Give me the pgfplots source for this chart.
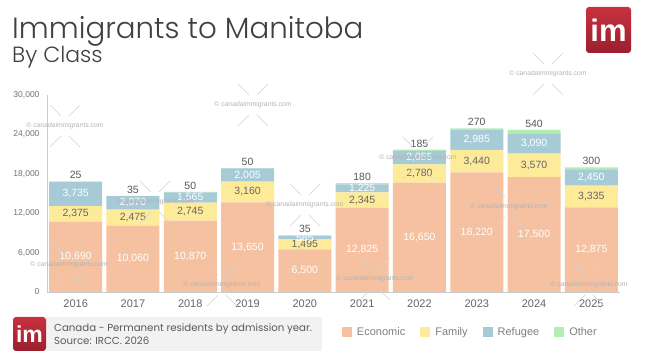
\documentclass[border=0pt]{standalone}
\usepackage{fontspec}
\setmainfont{Liberation Sans}
\newfontfamily\titlefont{Poppins Light}
\newfontfamily\gothfont{Poppins}
\usepackage{pgfplots}
\usepackage{pgfplotstable}
\pgfplotsset{compat=1.18}
\pgfplotsset{/pgf/number format/assume math mode=true}
\definecolor{econ}{HTML}{F5C1A0}
\definecolor{fam}{HTML}{FDEB99}
\definecolor{refc}{HTML}{A6CAD6}
\definecolor{oth}{HTML}{B2EEB2}
\definecolor{logotop}{HTML}{C8323F}
\definecolor{logobot}{HTML}{9A1F2D}
\definecolor{wmtext}{HTML}{B4B4B4}
\definecolor{wmline}{HTML}{D4D4D4}

\pgfplotstableread{
x econ fam ref oth
0 10690 2375 3735 25
1 10060 2475 2070 35
2 10870 2745 1565 50
3 13650 3160 2005 50
4 6500 1495 585 35
5 12825 2345 1225 180
6 16650 2780 2055 185
7 18220 3440 2985 270
8 17500 3570 3090 540
9 12875 3335 2450 300
}\data

\newcommand\wm[2]{%
  \node[font=\fontsize{6.8}{7}\selectfont, text=wmtext, inner sep=0pt] at (#1,{363-#2}) {\textcopyright\ canadaimmigrants.com};
  \draw[wmline, line width=0.6pt] ({#1-4},{363-#2+10}) -- ({#1-15},{363-#2+21});
  \draw[wmline, line width=0.6pt] ({#1+4},{363-#2+10}) -- ({#1+15},{363-#2+21});
  \draw[wmline, line width=0.6pt] ({#1-4},{363-#2-10}) -- ({#1-15},{363-#2-21});
  \draw[wmline, line width=0.6pt] ({#1+4},{363-#2-10}) -- ({#1+15},{363-#2-21});
}
\newcommand\logo[5]{%
  \shade[top color=logotop, bottom color=logobot, rounded corners=3pt] (#1,#2) rectangle ++(#3,#4);
  \node[text=white, inner sep=0pt, font=\bfseries\fontsize{#5}{#5}\selectfont] at ({#1+#3/2},{#2+#4/2}) {im};
}
\pgfplotsset{mylegend/.style={legend image code/.code={\fill[##1] (0pt,-5pt) rectangle (10pt,5pt);}}}

\begin{document}
\begin{tikzpicture}[x=1pt,y=1pt]
\path[fill=white] (0,0) rectangle (645,363);

\node[anchor=base west, inner sep=0pt, font=\titlefont\fontsize{29.3}{31}\selectfont, text=black!75] at (12,324.5) {Immigrants to Manitoba};
\node[anchor=base west, inner sep=0pt, font=\titlefont\fontsize{22}{24}\selectfont, text=black!75] at (12,300.5) {By Class};

\logo{586}{310}{45}{46}{31}

\begin{axis}[
  at={(47pt,71pt)}, anchor=south west,
  scale only axis, width=573pt, height=197pt,
  xmin=-0.5, xmax=9.5, ymin=0, ymax=30000,
  ybar stacked, bar width=53pt,
  axis x line*=bottom, axis y line*=left,
  axis line style={draw=black!20, line width=0.8pt, -},
  xtick={0,...,9}, xticklabels={2016,2017,2018,2019,2020,2021,2022,2023,2024,2025},
  ytick={0,6000,...,30000},
  major tick length=0pt,
  scaled y ticks=false,
  yticklabel style={font=\fontsize{8.5}{9}\selectfont, text=black!55, xshift=-4pt, /pgf/number format/.cd, fixed, 1000 sep={,}},
  xticklabel style={font=\fontsize{11}{12}\selectfont, text=black!60, yshift=-4.5pt},
  legend style={at={(axis description cs:0.5148,-0.2056)}, anchor=west, draw=none, fill=none, inner sep=0pt, outer sep=0pt,
    font=\fontsize{11}{12}\selectfont, text=black!50, legend columns=4,
    nodes={inner sep=0pt},
    /tikz/every odd column/.append style={column sep=5pt},
    /tikz/every even column/.append style={column sep=15pt}},
  legend cell align=left,
]
\addplot[fill=econ, draw=none, mylegend] table[x=x,y=econ]{\data};
\addplot[fill=fam, draw=none, mylegend] table[x=x,y=fam]{\data};
\addplot[fill=refc, draw=none, mylegend] table[x=x,y=ref]{\data};
\addplot[fill=oth, draw=none, mylegend] table[x=x,y=oth]{\data};
\legend{Economic,Family,Refugee,Other}
\end{axis}

\begin{axis}[
  at={(47pt,71pt)}, anchor=south west,
  scale only axis, width=573pt, height=197pt,
  xmin=-0.5, xmax=9.5, ymin=0, ymax=30000,
  hide axis, clip=false,
  point meta=explicit,
  nodes near coords={\pgfmathprintnumber[fixed,precision=0,1000 sep={,},assume math mode=true]{\pgfplotspointmeta}},
  every node near coord/.append style={font=\fontsize{10.5}{11}\selectfont, inner sep=0pt, anchor=center},
]
\addplot[draw=none, mark=none, every node near coord/.append style={text=white}] table[x=x, y expr=\thisrow{econ}/2, meta=econ]{\data};
\addplot[draw=none, mark=none, every node near coord/.append style={text=black!60}] table[x=x, y expr=\thisrow{econ}+\thisrow{fam}/2, meta=fam]{\data};
\addplot[draw=none, mark=none, every node near coord/.append style={text=white}] table[x=x, y expr=\thisrow{econ}+\thisrow{fam}+\thisrow{ref}/2, meta=ref]{\data};
\addplot[draw=none, mark=none, every node near coord/.append style={text=black!65, anchor=south, yshift=2.3pt}] table[x=x, y expr=\thisrow{econ}+\thisrow{fam}+\thisrow{ref}+\thisrow{oth}, meta=oth]{\data};
\end{axis}

\wm{65}{126}
\wm{253}{105}
\wm{155}{202}
\wm{305}{205}
\wm{69}{265}
\wm{222}{285}
\wm{418}{158}
\wm{509}{207}
\wm{375}{279}
\wm{589}{285}
\wm{548}{74}

\fill[black!5] (46,12) rectangle (322,46);
\logo{13}{12}{33}{34}{23}
\node[anchor=base west, inner sep=0pt, font=\gothfont\fontsize{10.2}{11}\selectfont, text=black!65] at (54,31) {Canada - Permanent residents by admission year.};
\node[anchor=base west, inner sep=0pt, font=\gothfont\fontsize{10.2}{11}\selectfont, text=black!65] at (54,18) {Source: IRCC. 2026};
\end{tikzpicture}
\end{document}
